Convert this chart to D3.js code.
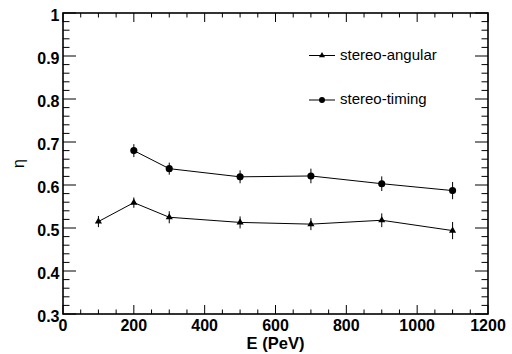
<!DOCTYPE html>
<html lang="en">
<head>
<meta charset="UTF-8">
<title>eta vs E</title>
<script src="https://d3js.org/d3.v7.min.js"></script>
<style>
    body { margin: 0; background: #fff; }
    svg { display: block; font-family: "Liberation Sans", Arial, sans-serif; }
</style>
</head>
<body>
<svg width="512" height="354"></svg>
<script>
    // energies (PeV)
    const energyAngular = [100, 200, 300, 500, 700, 900, 1100];
    const etaAngular = [0.515, 0.559, 0.525, 0.513, 0.509, 0.518, 0.494];
    const errAngular = [0.013, 0.012, 0.014, 0.014, 0.014, 0.016, 0.020];

    const energyTiming = [200, 300, 500, 700, 900, 1100];
    const etaTiming = [0.680, 0.638, 0.619, 0.621, 0.603, 0.587];
    const errTiming = [0.015, 0.014, 0.015, 0.017, 0.017, 0.020];

    const xTicks = [0, 200, 400, 600, 800, 1000, 1200];
    const yTicks = [0.3, 0.4, 0.5, 0.6, 0.7, 0.8, 0.9, 1];
    const legendLabels = ["stereo-angular", "stereo-timing"];

    const svg = d3.select("svg");
    const frame = { l: 63, r: 488, t: 13, b: 314 };

    const x = d3.scaleLinear().domain([0, 1200]).range([frame.l, frame.r]);
    const y = d3.scaleLinear().domain([0.3, 1]).range([frame.b, frame.t]);

    const minorX = d3.range(0, 1201, 50);
    const minorY = d3.range(0.3, 1.0001, 0.02);

    const axes = svg.append("g").attr("stroke", "#000");

    // ticks on all four sides (ROOT style)
    minorX.forEach(v => {
        const len = v % 200 === 0 ? 9 : 4.5;
        axes.append("line").attr("x1", x(v)).attr("x2", x(v))
            .attr("y1", frame.b).attr("y2", frame.b - len).attr("stroke-width", 1);
        axes.append("line").attr("x1", x(v)).attr("x2", x(v))
            .attr("y1", frame.t).attr("y2", frame.t + len).attr("stroke-width", 1);
    });
    minorY.forEach((v, i) => {
        const len = i % 5 === 0 ? 13 : 6.5;
        axes.append("line").attr("y1", y(v)).attr("y2", y(v))
            .attr("x1", frame.l).attr("x2", frame.l + len).attr("stroke-width", 1);
        axes.append("line").attr("y1", y(v)).attr("y2", y(v))
            .attr("x1", frame.r).attr("x2", frame.r - len).attr("stroke-width", 1);
    });

    axes.append("rect")
        .attr("x", frame.l).attr("y", frame.t)
        .attr("width", frame.r - frame.l).attr("height", frame.b - frame.t)
        .attr("fill", "none").attr("stroke-width", 1.6);

    // tick labels
    svg.append("g").selectAll("text").data(xTicks).join("text")
        .attr("x", d => x(d)).attr("y", 331)
        .attr("text-anchor", "middle")
        .attr("font-weight", "bold").attr("font-size", 16)
        .text(d => d);

    svg.append("g").selectAll("text").data(yTicks).join("text")
        .attr("x", 59.5).attr("y", d => y(d) + 7.5)
        .attr("text-anchor", "end")
        .attr("font-weight", "bold").attr("font-size", 16)
        .text(d => d);

    svg.append("text")
        .attr("x", (frame.l + frame.r) / 2).attr("y", 349)
        .attr("text-anchor", "middle")
        .attr("font-weight", "bold").attr("font-size", 16.5)
        .text("E (PeV)");

    svg.append("text")
        .attr("transform", `translate(23.5,${(frame.t + frame.b) / 2}) rotate(-90)`)
        .attr("text-anchor", "middle")
        .attr("font-size", 16)
        .text("η");

    // data series
    function drawSeries(xs, ys, es, marker) {
        const pts = xs.map((e, i) => ({ e: e, v: ys[i], err: es[i] }));
        const g = svg.append("g");
        g.append("path")
            .datum(pts)
            .attr("fill", "none").attr("stroke", "#000").attr("stroke-width", 1)
            .attr("d", d3.line().x(d => x(d.e)).y(d => y(d.v)));
        g.selectAll("line.err").data(pts).join("line")
            .attr("class", "err")
            .attr("x1", d => x(d.e)).attr("x2", d => x(d.e))
            .attr("y1", d => y(d.v - d.err)).attr("y2", d => y(d.v + d.err))
            .attr("stroke", "#000").attr("stroke-width", 1);
        g.selectAll("path.m").data(pts).join("path")
            .attr("class", "m")
            .attr("transform", d => `translate(${x(d.e)},${y(d.v)})`)
            .attr("d", marker)
            .attr("fill", "#000");
    }

    const triangle = d3.symbol().type(d3.symbolTriangle).size(22)();
    const circle = d3.symbol().type(d3.symbolCircle).size(40)();

    drawSeries(energyAngular, etaAngular, errAngular, triangle);
    drawSeries(energyTiming, etaTiming, errTiming, circle);

    // legend
    const legend = svg.append("g");
    [55.5, 100].forEach((ly, i) => {
        legend.append("line")
            .attr("x1", 309).attr("x2", 335).attr("y1", ly).attr("y2", ly)
            .attr("stroke", "#000").attr("stroke-width", 1);
        legend.append("path")
            .attr("transform", `translate(322,${ly})`)
            .attr("d", i === 0 ? d3.symbol().type(d3.symbolTriangle).size(16)() : d3.symbol().type(d3.symbolCircle).size(28)())
            .attr("fill", "#000");
        legend.append("text")
            .attr("x", 340).attr("y", ly + 4)
            .attr("font-size", 15)
            .text(legendLabels[i]);
    });
</script>
</body>
</html>
